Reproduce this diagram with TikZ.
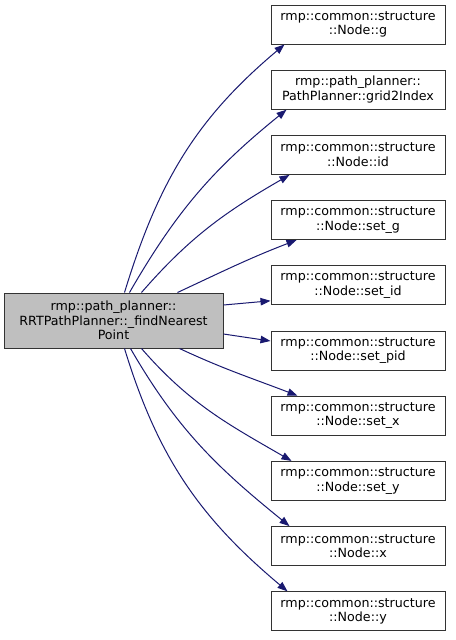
\documentclass[tikz,border=0pt]{standalone}
\usepackage{fontspec}
\setmainfont{DejaVu Sans}
\usetikzlibrary{arrows.meta,calc}
\definecolor{edgeblue}{HTML}{191970}

\begin{document}
\begin{tikzpicture}[
    x=0.75pt, y=-0.75pt,
    >={Triangle[length=7.5pt,width=5.6pt]},
    fn/.style={draw=black!80, line width=0.75pt, fill=white, inner sep=0pt,
        minimum width=130.5pt, minimum height=29.25pt, align=center,
        font=\fontsize{9.5}{11}\selectfont},
    root/.style={fn, fill=gray!50, minimum width=164.25pt, minimum height=41.25pt},
    call/.style={->, edgeblue, line width=0.75pt}
]
\useasboundingbox (0,0) rectangle (455,640);

% Caller
\node[root] (main) at (113.5,320.5)
    {rmp::path\_planner::\\RRTPathPlanner::\_findNearest\\Point};

% Callees
\node[fn] (nodeg)  at (358,24.5)  {rmp::common::structure\\::Node::g};
\node[fn] (grid)   at (358,89.7)  {rmp::path\_planner::\\PathPlanner::grid2Index};
\node[fn] (nodeid) at (358,154.9) {rmp::common::structure\\::Node::id};
\node[fn] (setg)   at (358,220.1) {rmp::common::structure\\::Node::set\_g};
\node[fn] (setid)  at (358,285.3) {rmp::common::structure\\::Node::set\_id};
\node[fn] (setpid) at (358,350.5) {rmp::common::structure\\::Node::set\_pid};
\node[fn] (setx)   at (358,415.7) {rmp::common::structure\\::Node::set\_x};
\node[fn] (sety)   at (358,480.9) {rmp::common::structure\\::Node::set\_y};
\node[fn] (nodex)  at (358,546.1) {rmp::common::structure\\::Node::x};
\node[fn] (nodey)  at (358,611.3) {rmp::common::structure\\::Node::y};

% Calls upwards
\draw[call] ($(main.north west)+(121,0)$) to[out=73,in=220] ($(nodeg.south west)+(14,0)$);
\draw[call] ($(main.north west)+(126,0)$) to[out=60,in=219] ($(grid.south west)+(16,0)$);
\draw[call] ($(main.north west)+(138,0)$) to[out=49,in=210] ($(nodeid.south west)+(19,0)$);
\draw[call] ($(main.north west)+(174,0)$) to[out=25,in=201] ($(setg.south west)+(26,0)$);
\draw[call] ($(main.east)+(0,-15.5)$) -- ($(setid.west)+(0,15.5)$);

% Calls downwards
\draw[call] ($(main.east)+(0,13.5)$) -- ($(setpid.west)+(0,-9.5)$);
\draw[call] ($(main.south west)+(176,0)$) to[out=-25,in=159] ($(setx.north west)+(27,0)$);
\draw[call] ($(main.south west)+(138,0)$) to[out=-49,in=150] ($(sety.north west)+(21,0)$);
\draw[call] ($(main.south west)+(127,0)$) to[out=-60,in=141] ($(nodex.north west)+(19,0)$);
\draw[call] ($(main.south west)+(121,0)$) to[out=-73,in=140] ($(nodey.north west)+(17,0)$);

\end{tikzpicture}
\end{document}
